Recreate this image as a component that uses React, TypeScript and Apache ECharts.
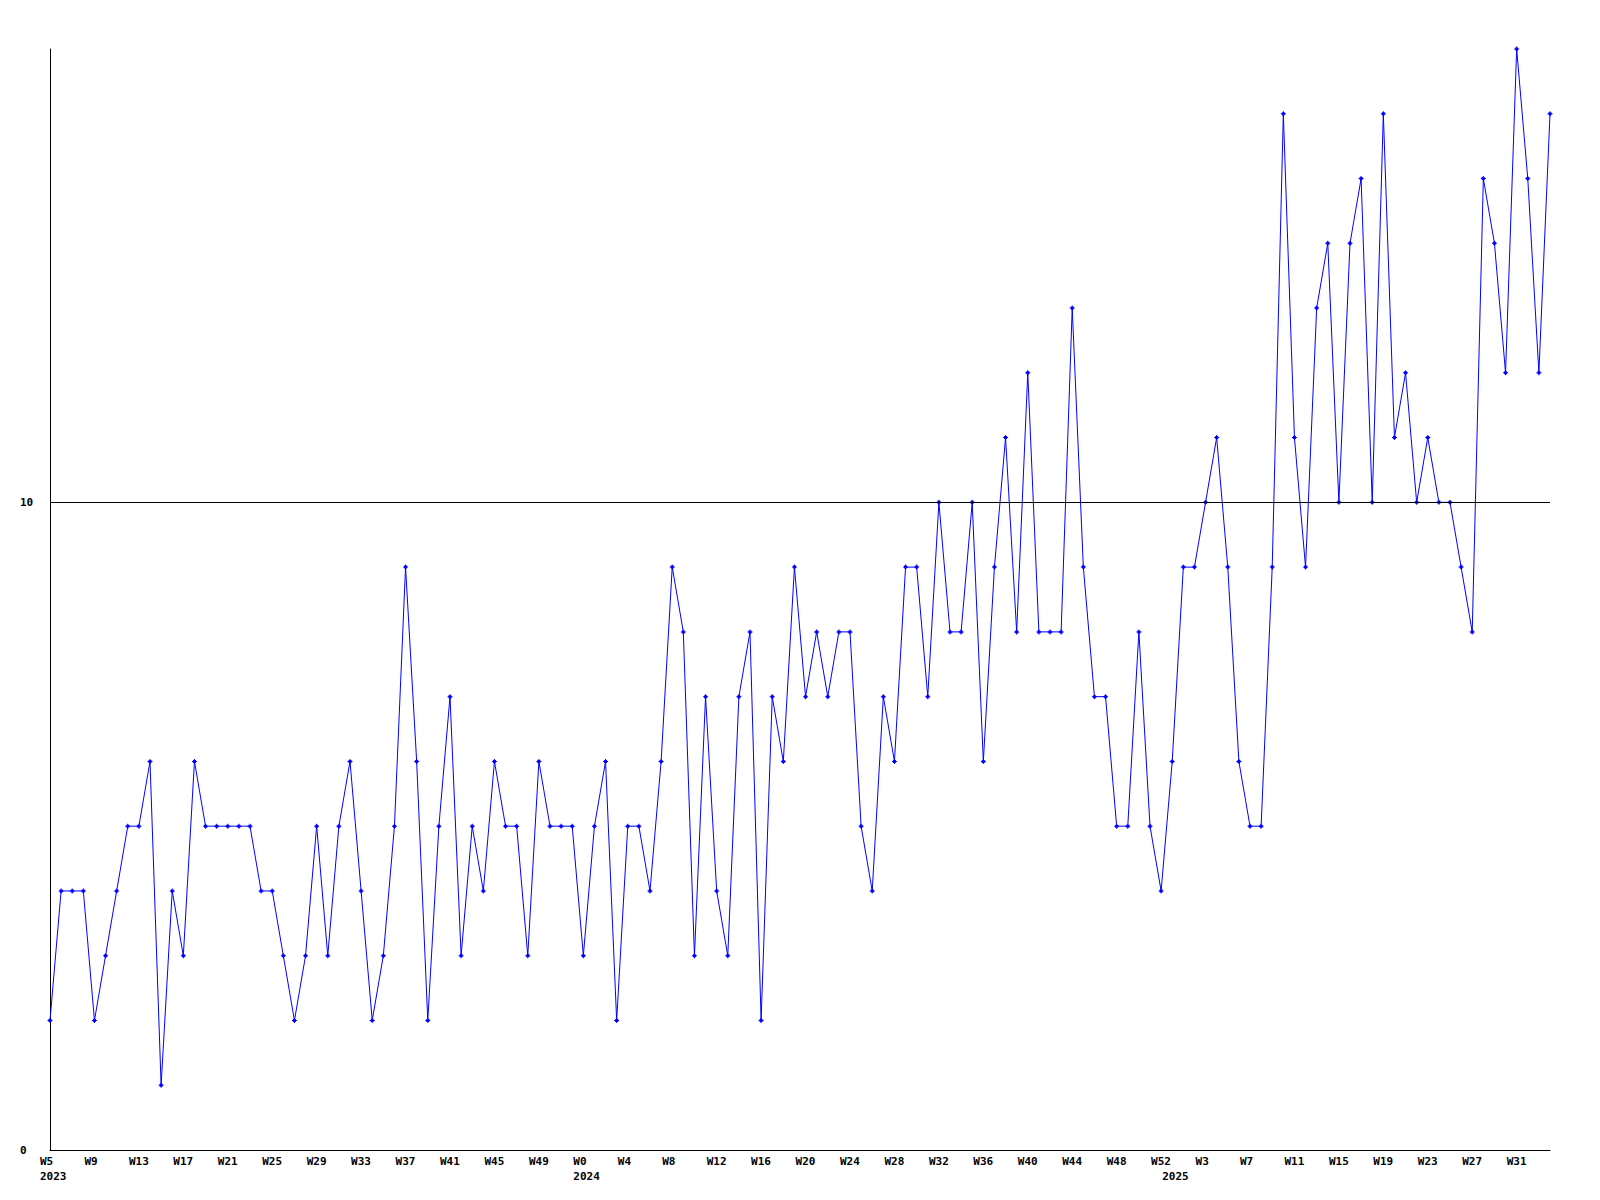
import React, { useEffect, useRef } from "react";
import * as echarts from "echarts";

// Week ranges shown on the x axis: [year, firstWeek, lastWeek]
const weekRanges: [number, number, number][] = [
  [2023, 5, 52],
  [2024, 0, 52],
  [2025, 0, 34],
];

const values2023 = [
  2, 4, 4, 4, 2, 3, 4, 5, 5, 6,
  1, 4, 3, 6, 5, 5, 5, 5, 5, 4,
  4, 3, 2, 3, 5, 3, 5, 6, 4, 2,
  3, 5, 9, 6, 2, 5, 7, 3, 5, 4,
  6, 5, 5, 3, 6, 5, 5, 5,
];
const values2024 = [
  3, 5, 6, 2, 5, 5, 4, 6, 9, 8,
  3, 7, 4, 3, 7, 8, 2, 7, 6, 9,
  7, 8, 7, 8, 8, 5, 4, 7, 6, 9,
  9, 7, 10, 8, 8, 10, 6, 9, 11, 8,
  12, 8, 8, 8, 13, 9, 7, 7, 5, 5,
  8, 5, 4,
];
const values2025 = [
  6, 9, 9, 10, 11, 9, 6, 5, 5, 9,
  16, 11, 9, 13, 14, 10, 14, 15, 10, 16,
  11, 12, 10, 11, 10, 10, 9, 8, 15, 14,
  12, 17, 15, 12, 16,
];

const yMin = 0;
const yMax = 17;
const yInterval = 10;
const referenceLine = 10;

const weeks: string[] = [];
const years: number[] = [];
for (const [y, a, b] of weekRanges) {
  for (let w = a; w <= b; w++) {
    weeks.push("W" + w);
    years.push(y);
  }
}
const values = [...values2023, ...values2024, ...values2025];

const FONT = "'DejaVu Sans Mono', 'Liberation Mono', monospace";

const richText = {
  w: {
    width: 20,
    align: "left",
    fontFamily: FONT,
    fontWeight: "bold",
    fontSize: 11,
    lineHeight: 15,
    color: "#000",
  },
};

export default function App() {
  const ref = useRef<HTMLDivElement>(null);
  useEffect(() => {
    if (!ref.current) return;
    const chart = echarts.init(ref.current, undefined, { renderer: "svg" });
    const step = 4;
    chart.setOption({
      animation: false,
      backgroundColor: "#ffffff",
      grid: { left: 50, right: 50, top: 49, bottom: 50, containLabel: false },
      xAxis: [
        {
          type: "category",
          data: weeks,
          boundaryGap: false,
          axisLine: { show: true, lineStyle: { color: "#000", width: 1 } },
          axisTick: { show: false },
          splitLine: { show: false },
          axisLabel: {
            interval: step - 1,
            margin: 4,
            align: "center",
            formatter: (val: string) => `{w|${val}}`,
            rich: richText,
          },
        },
        {
          type: "category",
          data: weeks,
          position: "bottom",
          boundaryGap: false,
          axisLine: { show: false },
          axisTick: { show: false },
          splitLine: { show: false },
          axisLabel: {
            interval: (idx: number) => idx === 0 || years[idx] !== years[idx - 1],
            margin: 19,
            align: "center",
            formatter: (_v: string, idx: number) => `{w|${years[idx]}}`,
            rich: richText,
          },
        },
      ],
      yAxis: {
        type: "value",
        min: yMin,
        max: yMax,
        interval: yInterval,
        axisLine: { show: true, lineStyle: { color: "#000", width: 1 } },
        axisTick: { show: false },
        splitLine: { show: false },
        axisLabel: {
          showMaxLabel: false,
          align: "left",
          margin: 30,
          fontFamily: FONT,
          fontWeight: "bold",
          fontSize: 11,
          color: "#000",
        },
      },
      series: [
        {
          type: "line",
          xAxisIndex: 0,
          data: values,
          symbol: "path://M2,0H3V1H4V2H5V3H4V4H3V5H2V4H1V3H0V2H1V1H2Z",
          symbolSize: 5,
          showSymbol: true,
          lineStyle: { color: "#0000ff", width: 1 },
          itemStyle: { color: "#0000ff" },
          markLine: {
            silent: true,
            symbol: ["none", "none"],
            label: { show: false },
            lineStyle: { color: "#000", width: 1, type: "solid" },
            data: [{ yAxis: referenceLine }],
          },
        },
      ],
    });
    return () => chart.dispose();
  }, []);
  return (
    <div
      ref={ref}
      style={{ position: "absolute", left: 0, top: 0, width: 1600, height: 1200 }}
    />
  );
}
